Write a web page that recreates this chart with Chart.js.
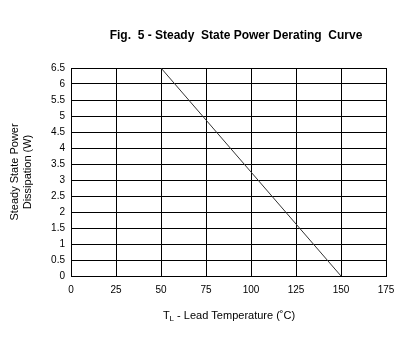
<!DOCTYPE html>
<html>
<head>
<meta charset="utf-8">
<script src="https://cdn.jsdelivr.net/npm/chart.js@4/dist/chart.umd.min.js"></script>
<style>
  html, body { margin: 0; padding: 0; background: #fff; }
  #wrap { width: 408px; height: 354px; position: relative; }
</style>
</head>
<body>
<div id="wrap"><canvas id="deratingChart" width="408" height="354"></canvas></div>
<script>
// Derating curve data
const chartTitle = 'Fig.  5 - Steady  State Power Derating  Curve';
const yTitleLines = ['Steady State Power', 'Dissipation (W)'];
const leadTemps = [50, 150];       // T_L (°C)
const powerValues = [6.5, 0];      // W
const xTicks = [0, 25, 50, 75, 100, 125, 150, 175];
const yTicks = [0, 0.5, 1, 1.5, 2, 2.5, 3, 3.5, 4, 4.5, 5, 5.5, 6, 6.5];

const FONT = '"Liberation Sans", Arial, sans-serif';

// Titles drawn by hand (subscript in the x title)
const titlesPlugin = {
    id: 'titles',
    afterDraw(chart) {
        const ctx = chart.ctx;
        const area = chart.chartArea;
        ctx.save();
        ctx.fillStyle = '#000';
        ctx.textBaseline = 'middle';

        // main title
        ctx.font = 'bold 12px ' + FONT;
        ctx.textAlign = 'center';
        ctx.fillText(chartTitle, 236, 36);

        // y title, rotated
        ctx.font = '11px ' + FONT;
        ctx.translate(15, (area.top + area.bottom) / 2);
        ctx.rotate(-Math.PI / 2);
        ctx.fillText(yTitleLines[0], 0, 0);
        ctx.fillText(yTitleLines[1], 0, 13);
        ctx.setTransform(1, 0, 0, 1, 0, 0);

        // x title with subscript L
        const y = 316;
        const main = 'T';
        const sub = 'L';
        const rest = ' - Lead Temperature (\u02DAC)';
        ctx.font = '11px ' + FONT;
        const wMain = ctx.measureText(main).width;
        const wRest = ctx.measureText(rest).width;
        ctx.font = '8px ' + FONT;
        const wSub = ctx.measureText(sub).width;
        const total = wMain + wSub + wRest;
        let x = 229 - total / 2;
        ctx.textAlign = 'left';
        ctx.font = '11px ' + FONT;
        ctx.fillText(main, x, y);
        x += wMain;
        ctx.font = '8px ' + FONT;
        ctx.fillText(sub, x, y + 3);
        x += wSub;
        ctx.font = '11px ' + FONT;
        ctx.fillText(rest, x, y);
        ctx.restore();
    }
};

const ctx = document.getElementById('deratingChart').getContext('2d');
new Chart(ctx, {
    type: 'line',
    data: {
        datasets: [{
            data: leadTemps.map((t, i) => ({ x: t, y: powerValues[i] })),
            borderColor: '#333',
            borderWidth: 1,
            pointRadius: 0,
            fill: false,
            tension: 0
        }]
    },
    options: {
        responsive: false,
        animation: false,
        events: [],
        layout: { padding: { left: 0, right: 22, top: 68, bottom: 0 } },
        plugins: {
            legend: { display: false },
            tooltip: { enabled: false }
        },
        scales: {
            x: {
                type: 'linear',
                min: 0,
                max: 175,
                afterBuildTicks: axis => { axis.ticks = xTicks.map(v => ({ value: v })); },
                afterFit: axis => { axis.height = 78; },
                grid: { color: '#000', lineWidth: 1, drawTicks: false },
                border: { color: '#000', width: 1 },
                ticks: {
                    color: '#000',
                    font: { family: FONT, size: 10 },
                    padding: 8,
                    maxRotation: 0
                }
            },
            y: {
                min: 0,
                max: 6.5,
                afterBuildTicks: axis => { axis.ticks = yTicks.map(v => ({ value: v })); },
                afterFit: axis => { axis.width = 71; },
                grid: { color: '#000', lineWidth: 1, drawTicks: false },
                border: { color: '#000', width: 1 },
                ticks: {
                    color: '#000',
                    font: { family: FONT, size: 10 },
                    padding: 6,
                    callback: v => String(v)
                }
            }
        }
    },
    plugins: [titlesPlugin]
});
</script>
</body>
</html>
